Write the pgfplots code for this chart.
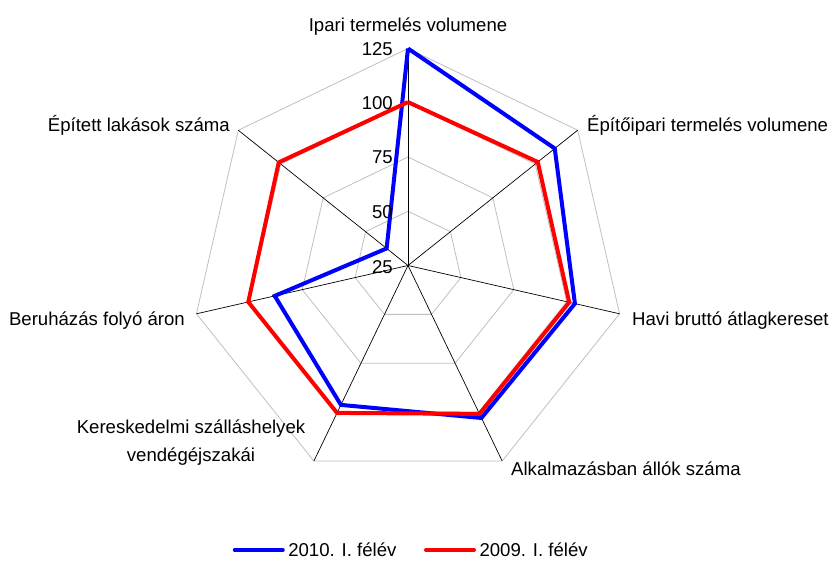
\documentclass[border=0pt]{standalone}
\usepackage{fontspec}
\setmainfont{Liberation Sans}
\usepackage{pgfplots}
\usepackage{pgfplotstable}
\pgfplotsset{compat=1.18}

% angle (deg, clockwise from top), 2010 and 2009 values; first row repeated to close
\pgfplotstableread{
a        v10    v09
0        125    100.3
51.4286  111.5  101.5
102.857  103.9  101.2
154.286  103.0  100.9
205.714  96.3   100.4
257.143  88.0   100.5
308.571  37.6   101.2
360      125    100.3
}\radar

\newcommand{\lbl}{\fontsize{18.6}{28}\selectfont}

\begin{document}
\begin{tikzpicture}
\begin{axis}[
    x=1pt, y=1pt,
    xmin=0, xmax=832,
    ymin=0, ymax=561,
    y dir=reverse,
    hide axis,
    clip=false,
    legend style={at={(axis cs:412,550)}, anchor=center, draw=none, fill=none,
        font=\lbl, legend columns=2, inner sep=0pt,
        nodes={inner xsep=3.5pt, inner ysep=0pt},
        /tikz/every even column/.append style={column sep=24pt}},
    legend image code/.code={\draw[#1, line width=4pt, line cap=round] (0pt,0pt) -- (48pt,0pt);},
]
\path (axis cs:0,0) rectangle (axis cs:832,561);

% grid rings (value 50, 75, 100, 125)
\pgfplotsinvokeforeach{54.25,108.5,162.75,217}{
  \addplot[forget plot, no marks, color=black!25, line width=0.8pt]
    table[x expr={408+#1*sin(\thisrow{a})}, y expr={265.5-#1*cos(\thisrow{a})}] {\radar};
}
% spokes
\pgfplotsinvokeforeach{0,...,6}{
  \draw[black, line width=0.7pt] (axis cs:408,265.5) -- (axis cs:{408+217*sin(#1*360/7)},{265.5-217*cos(#1*360/7)});
}

\addplot[no marks, color=blue, line width=4pt]
  table[x expr={408+2.17*(\thisrow{v10}-25)*sin(\thisrow{a})}, y expr={265.5-2.17*(\thisrow{v10}-25)*cos(\thisrow{a})}] {\radar};
\addlegendentry{2010. I. félév}
\addplot[no marks, color=red, line width=4pt]
  table[x expr={408+2.17*(\thisrow{v09}-25)*sin(\thisrow{a})}, y expr={265.5-2.17*(\thisrow{v09}-25)*cos(\thisrow{a})}] {\radar};
\addlegendentry{2009. I. félév}

% radial tick labels
\node[anchor=base east, inner sep=0pt, font=\lbl] at (axis cs:393,56) {125};
\node[anchor=base east, inner sep=0pt, font=\lbl] at (axis cs:393,110) {100};
\node[anchor=base east, inner sep=0pt, font=\lbl] at (axis cs:393,164) {75};
\node[anchor=base east, inner sep=0pt, font=\lbl] at (axis cs:393,218.5) {50};
\node[anchor=base east, inner sep=0pt, font=\lbl] at (axis cs:393,273) {25};

% category labels
\node[anchor=base, inner sep=0pt, font=\lbl] at (axis cs:408,32) {Ipari termelés volumene};
\node[anchor=base west, inner sep=0pt, font=\lbl] at (axis cs:587,132) {Építőipari termelés volumene};
\node[anchor=base west, inner sep=0pt, font=\lbl] at (axis cs:632,325) {Havi bruttó átlagkereset};
\node[anchor=base west, inner sep=0pt, font=\lbl] at (axis cs:511,475) {Alkalmazásban állók száma};
\node[anchor=base, inner sep=0pt, font=\lbl, align=center] at (axis cs:191,461) {Kereskedelmi szálláshelyek\\vendégéjszakái};
\node[anchor=base east, inner sep=0pt, font=\lbl] at (axis cs:185,325) {Beruházás folyó áron};
\node[anchor=base east, inner sep=0pt, font=\lbl] at (axis cs:230,132) {Épített lakások száma};
\end{axis}
\end{tikzpicture}
\end{document}
